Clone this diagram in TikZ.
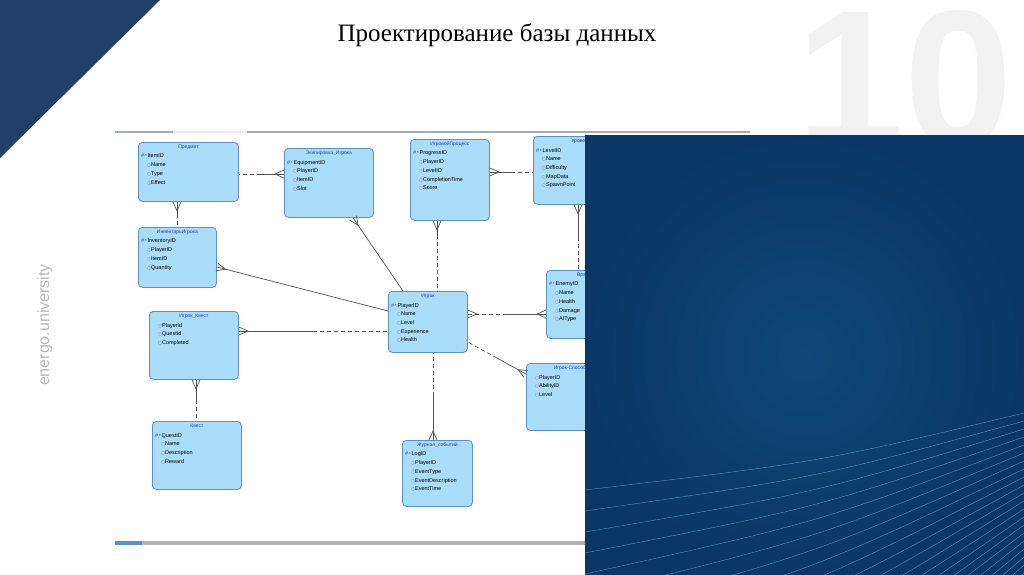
\documentclass[tikz,border=0pt]{standalone}
\usepackage{fontspec}
\setmainfont{Liberation Sans}
\newfontfamily\serifttl{Liberation Serif}
\newfontfamily\dvsans{DejaVu Sans}
\usetikzlibrary{calc}
\definecolor{navy}{HTML}{223F6A}
\definecolor{entfill}{HTML}{A9DDF9}
\definecolor{entborder}{HTML}{5A8ED6}
\definecolor{tb}{HTML}{1F3FD8}
\definecolor{pk}{HTML}{B0508A}
\definecolor{relc}{HTML}{505050}
\definecolor{panelout}{HTML}{0A3766}
\definecolor{panelin}{HTML}{0E4878}
\definecolor{linec}{HTML}{5E9CC8}
\definecolor{framec}{HTML}{A4ABB8}
\newcommand\pkey[1]{\textcolor{tb}{\#}\,{\fontsize{4}{4}\selectfont*}\,#1}
\newcommand\attr[1]{\hspace*{6pt}{\dvsans\fontsize{4.5}{4}\selectfont\textcolor{pk}{○}}#1}
\newcommand\ent[7]{%
  \node[ent, minimum width=#4pt, minimum height=#5pt] (#1) at (#2,-#3) {};
  \node[etitle] (#1-t) at ($(#1.north)+(0,-5)$) {#6};
  \node[eattr] (#1-a) at ($(#1.north west)+(3,-12)$) {#7};}
\newcommand\crow[2]{\draw[rel] ($(#1)!4pt!90:(#2)$) -- ($(#1)!9pt!(#2)$) -- ($(#1)!4pt!-90:(#2)$);}
\newcommand\sdlink[2]{\draw[rel] (#1) -- ($(#1)!0.5!(#2)$); \draw[reld] ($(#1)!0.5!(#2)$) -- (#2);}
\begin{document}
\begin{tikzpicture}[x=1pt,y=1pt,
  ent/.style={draw=entborder, fill=entfill, rounded corners=4pt, line width=0.8pt, inner sep=0pt, anchor=north west},
  etitle/.style={font=\fontsize{5}{6}\selectfont, text=tb, inner sep=0pt},
  eattr/.style={font=\fontsize{5.5}{8.7}\selectfont, align=left, inner sep=0pt, anchor=north west},
  rel/.style={draw=relc, line width=0.7pt},
  reld/.style={rel, dash pattern=on 4pt off 3pt}]
\useasboundingbox (0,0) rectangle (1024,-574);
\fill[white] (0,0) rectangle (1024,-574);
% decorations
\fill[navy] (0,0) -- (160,0) -- (0,-158) -- cycle;
\node[font=\bfseries\fontsize{195}{195}\selectfont, text=black!5, anchor=base west, inner sep=0pt] (ten) at (796,-146) {10};
\node[font=\serifttl\fontsize{25}{25}\selectfont] (title) at (497,-35) {Проектирование базы данных};
\node[rotate=90, text=black!28, font=\fontsize{16}{16}\selectfont] (brand) at (45,-325) {energo.university};
% frame
\draw[framec, line width=2pt] (115,-132) -- (750,-132);
\draw[black!8, line width=2pt] (173,-132) -- (247,-132);
\draw[black!30, line width=4pt] (115,-543) -- (585,-543);
\draw[entborder, line width=4pt] (115,-543) -- (142,-543);
% entities
\ent{pred}{138}{142}{100}{59}{Предмет}{\pkey{ItemID}\\\attr{Name}\\\attr{Type}\\\attr{Effect}}
\ent{ekip}{284}{148}{89}{69}{Экипировка\_Игрока}{\pkey{EquipmentID}\\\attr{PlayerID}\\\attr{ItemID}\\\attr{Slot}}
\ent{igproc}{410}{139}{79}{81}{ИгровойПроцесс}{\pkey{ProgressID}\\\attr{PlayerID}\\\attr{LevelID}\\\attr{CompletionTime}\\\attr{Score}}
\ent{lvl}{533}{136}{95}{68}{Уровень}{\pkey{LevelID}\\\attr{Name}\\\attr{Difficulty}\\\attr{MapData}\\\attr{SpawnPoint}}
\ent{inv}{138}{227}{78}{60}{ИнвентарьИгрока}{\pkey{InventoryID}\\\attr{PlayerID}\\\attr{ItemID}\\\attr{Quantity}}
\ent{igrok}{388}{291}{79}{61}{Игрок}{\pkey{PlayerID}\\\attr{Name}\\\attr{Level}\\\attr{Experience}\\\attr{Health}}
\ent{enemy}{546}{270}{72}{68}{Враг}{\pkey{EnemyID}\\\attr{Name}\\\attr{Health}\\\attr{Damage}\\\attr{AIType}}
\ent{spos}{526}{363}{100}{67}{Игрок-Способности}{\attr{PlayerID}\\\attr{AbilityID}\\\attr{Level}}
\ent{iq}{149}{311}{89}{68}{Игрок\_Квест}{\attr{PlayerId}\\\attr{QuestId}\\\attr{Completed}}
\ent{kvest}{152}{421}{89}{68}{Квест}{\pkey{QuestID}\\\attr{Name}\\\attr{Description}\\\attr{Reward}}
\ent{jour}{402}{440}{70}{66}{Журнал\_событий}{\pkey{LogID}\\\attr{PlayerID}\\\attr{EventType}\\\attr{EventDescription}\\\attr{EventTime}}
% connector end points
\coordinate (r1a) at (ekip.west |- 0,-174);   \coordinate (r1b) at (pred.east |- 0,-174);
\coordinate (r2a) at (pred.south -| 177,0);   \coordinate (r2b) at (inv.north -| 177,0);
\coordinate (r3a) at (ekip.south -| 353,0);   \coordinate (r3b) at (igrok.north -| 403,0);
\coordinate (r4a) at (inv.east |- 0,-267);    \coordinate (r4b) at (igrok.west |- 0,-311);
\coordinate (r5a) at (igproc.south -| 437,0); \coordinate (r5b) at (igrok.north -| 437,0);
\coordinate (r6a) at (igproc.east |- 0,-172); \coordinate (r6b) at (lvl.west |- 0,-172);
\coordinate (r7a) at (lvl.south -| 578,0);    \coordinate (r7b) at (enemy.north -| 578,0);
\coordinate (r8a) at (enemy.west |- 0,-314);  \coordinate (r8b) at (igrok.east |- 0,-314);
\coordinate (r9a) at (spos.west |- 0,-374);   \coordinate (r9b) at (igrok.east |- 0,-342);
\coordinate (r10a) at (iq.east |- 0,-331);    \coordinate (r10b) at (igrok.west |- 0,-331);
\coordinate (r11a) at (iq.south -| 196,0);    \coordinate (r11b) at (kvest.north -| 196,0);
\coordinate (r12a) at (jour.north -| 433,0);  \coordinate (r12b) at (igrok.south -| 433,0);
% connectors
\sdlink{r1a}{r1b}\crow{r1a}{r1b}
\sdlink{r2a}{r2b}\crow{r2a}{r2b}
\draw[rel] (r3a) -- (r3b); \crow{r3a}{r3b}
\draw[rel] (r4a) -- (r4b); \crow{r4a}{r4b}
\draw[rel] (r5a) -- ($(r5a)!0.2!(r5b)$); \draw[reld] ($(r5a)!0.2!(r5b)$) -- (r5b); \crow{r5a}{r5b}
\sdlink{r6a}{r6b}\crow{r6a}{r6b}
\sdlink{r7a}{r7b}\crow{r7a}{r7b}
\sdlink{r8a}{r8b}\crow{r8a}{r8b}\crow{r8b}{r8a}
\sdlink{r9a}{r9b}\crow{r9a}{r9b}
\sdlink{r10a}{r10b}\crow{r10a}{r10b}
\sdlink{r11a}{r11b}\crow{r11a}{r11b}
\sdlink{r12a}{r12b}\crow{r12a}{r12b}
% right panel
\begin{scope}
\clip (585,-135) rectangle (1024,-574);
\shade[inner color=panelin, outer color=panelout] (585,-135) rectangle (1024,-574);
\foreach \i in {0,...,20} {
  \draw[linec, line width=0.5pt, opacity=0.75] (585,{-490-21*\i}) .. controls (820,{-462-15*\i}) .. (1024,{-413-8*\i});
}
\end{scope}
\end{tikzpicture}
\end{document}
